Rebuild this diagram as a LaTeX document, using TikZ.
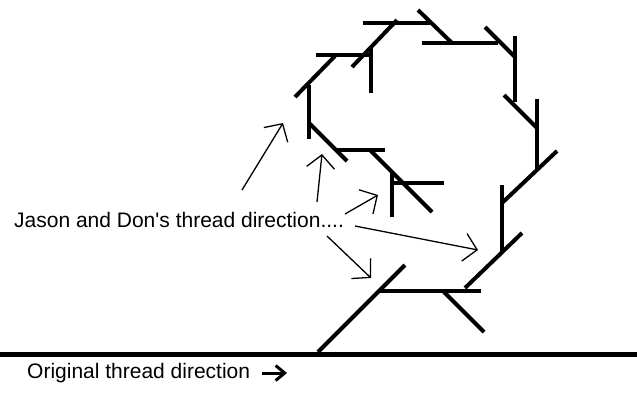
\documentclass[tikz,border=0pt]{standalone}
\usepackage{fontspec}
\setmainfont{Liberation Sans}
\usetikzlibrary{arrows.meta}
\begin{document}
\begin{tikzpicture}[x=1pt, y=-1pt, every node/.style={font=\fontsize{21}{25}\selectfont, inner sep=0pt},
    thread/.style={line width=4pt},
    pointer/.style={line width=1.3pt, -{Straight Barb[length=13pt,width=28pt]}}]

    \useasboundingbox (0,0) rectangle (637,416);

    % Original thread
    \draw[line width=5pt] (0,354.5) -- (637,354.5);
    \node[anchor=base west] (orig) at (27,378) {Original thread direction};
    \coordinate (o1) at (262,373);
    \coordinate (o2) at (287,373);
    \draw[line width=3pt, -{Straight Barb[length=9pt,width=15pt]}] (o1) -- (o2);

    % Branches growing off the thread
    \foreach \xa/\ya/\xb/\yb in {363/23/430/23, 418/10/452/43, 422/43/498/43, 485/27/515/57,
        515/36/515/102, 504/95/537/128, 537/99/537/170, 557/151/502/203,
        502/185/502/252, 522/233/465/288, 380/291/481/291, 443/291/484/332,
        405/265/318/352, 316/55/370/55, 335/56/295/97, 397/20/352/67,
        371/48/371/93, 309/85/309/139, 309/123/347/161, 337/150/385/150,
        370/150/432/212, 392/173/392/217, 392/183/444/183}
        \draw[thread] (\xa,\ya) -- (\xb,\yb);

    % Label and its pointers
    \node[anchor=base west] (jd) at (14,227) {Jason and Don\textquotesingle s thread direction....};
    \coordinate (s1) at (242,190); \coordinate (t1) at (283,123);
    \coordinate (s2) at (317,202); \coordinate (t2) at (322,154);
    \coordinate (s3) at (345,214); \coordinate (t3) at (378,195);
    \coordinate (s4) at (355,226); \coordinate (t4) at (478,250);
    \coordinate (s5) at (327,236); \coordinate (t5) at (371,278);
    \foreach \i in {1,...,5}
        \draw[pointer] (s\i) -- (t\i);

\end{tikzpicture}
\end{document}
